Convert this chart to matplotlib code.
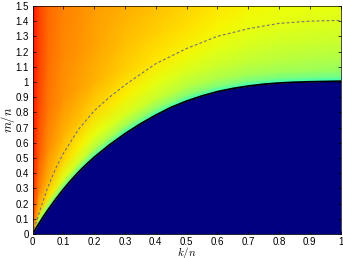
"""Phase map of m/n against k/n with the feasibility boundary."""

import matplotlib

matplotlib.use("Agg")
import matplotlib.pyplot as plt
import numpy as np

plt.rcParams["font.family"] = ["Liberation Sans", "DejaVu Sans"]
plt.rcParams["mathtext.fontset"] = "cm"

# boundary of the dark region
boundary_k = [0, 0.01, 0.02, 0.035, 0.05, 0.075, 0.1, 0.125, 0.15, 0.175,
              0.2, 0.25, 0.3, 0.35, 0.4, 0.45, 0.5, 0.55, 0.6, 0.65, 0.7,
              0.75, 0.8, 0.85, 0.9, 0.95, 1.0]
boundary_m = [0, 0.033, 0.0655, 0.113, 0.158, 0.228, 0.293, 0.353, 0.408,
              0.458, 0.504, 0.5865, 0.659, 0.724, 0.7815, 0.833, 0.874, 0.908,
              0.936, 0.957, 0.973, 0.985, 0.993, 0.998, 1.001, 1.003, 1.005]

# dashed reference curve
dashed_k = [0, 0.01, 0.025, 0.05, 0.075, 0.1, 0.15, 0.2, 0.25, 0.3, 0.4, 0.5,
            0.6, 0.7, 0.8, 0.9, 1.0]
dashed_m = [0, 0.065, 0.16, 0.31, 0.43, 0.53, 0.69, 0.81, 0.9, 0.98, 1.12,
            1.22, 1.3, 1.35, 1.385, 1.4, 1.405]

# field samples: columns of k/n, levels as fraction of the way from the
# boundary up to the top of the plot
col_k = [0, 0.02, 0.05, 0.1, 0.15, 0.2, 0.3, 0.4, 0.5, 0.6, 0.7, 0.8, 0.9, 1.0]
level_t = [0, 0.02, 0.06, 0.15, 0.3, 0.5, 0.75, 1.0]
col_values = [
    [0.65, 0.78, 0.83, 0.86, 0.88, 0.89, 0.89, 0.89],
    [0.36, 0.58, 0.71, 0.77, 0.81, 0.83, 0.84, 0.84],
    [0.36, 0.55, 0.67, 0.72, 0.76, 0.785, 0.795, 0.80],
    [0.36, 0.52, 0.62, 0.68, 0.72, 0.75, 0.765, 0.77],
    [0.36, 0.50, 0.60, 0.655, 0.70, 0.735, 0.75, 0.76],
    [0.36, 0.48, 0.57, 0.63, 0.68, 0.72, 0.735, 0.745],
    [0.36, 0.46, 0.54, 0.61, 0.655, 0.69, 0.71, 0.725],
    [0.36, 0.45, 0.52, 0.59, 0.63, 0.665, 0.69, 0.705],
    [0.36, 0.44, 0.51, 0.57, 0.61, 0.645, 0.67, 0.685],
    [0.36, 0.44, 0.50, 0.56, 0.595, 0.625, 0.65, 0.665],
    [0.36, 0.435, 0.495, 0.55, 0.585, 0.61, 0.635, 0.65],
    [0.36, 0.435, 0.49, 0.545, 0.575, 0.60, 0.625, 0.64],
    [0.36, 0.435, 0.49, 0.54, 0.57, 0.595, 0.62, 0.635],
    [0.36, 0.43, 0.485, 0.535, 0.565, 0.59, 0.615, 0.63],
]

x_ticks = [0, 0.1, 0.2, 0.3, 0.4, 0.5, 0.6, 0.7, 0.8, 0.9, 1]
x_tick_labels = ["0", "0.1", "0.2", "0.3", "0.4", "0.5", "0.6", "0.7", "0.8",
                 "0.9", "1"]
y_ticks = [0, 0.1, 0.2, 0.3, 0.4, 0.5, 0.6, 0.7, 0.8, 0.9, 1, 1.1, 1.2, 1.3,
           1.4, 1.5]
y_tick_labels = ["0", "0.1", "0.2", "0.3", "0.4", "0.5", "0.6", "0.7", "0.8",
                 "0.9", "1", "1.1", "1.2", "1.3", "1.4", "1.5"]
m_top = 1.5

# mesh that follows the boundary
col_b = np.interp(col_k, boundary_k, boundary_m)
kk, tt = np.meshgrid(col_k, level_t)
mm = col_b[None, :] + tt * (m_top - col_b[None, :])
vv = np.array(col_values).T

fig = plt.figure(figsize=(3.43, 2.58), dpi=100)
ax = fig.add_axes([0.0948, 0.093, 0.898, 0.884])

ax.pcolormesh(kk, mm, vv, shading="gouraud", cmap="jet", vmin=0, vmax=1)
ax.fill_between(boundary_k, 0, boundary_m, color=plt.cm.jet(0.0), lw=0)
ax.plot(boundary_k, boundary_m, color="black", lw=1.3)
ax.plot(dashed_k, dashed_m, color="0.45", lw=0.8, linestyle=(0, (2.5, 2)))

ax.set_xlim(0, 1)
ax.set_ylim(0, m_top)
ax.set_xticks(x_ticks)
ax.set_xticklabels(x_tick_labels)
ax.set_yticks(y_ticks)
ax.set_yticklabels(y_tick_labels)
ax.tick_params(direction="in", top=True, right=True, length=2.5, width=0.5,
               labelsize=7, pad=2.5)
ax.tick_params(axis="x", pad=2)
for spine in ax.spines.values():
    spine.set_linewidth(0.5)

ax.set_xlabel(r"$k/n$", fontsize=8, labelpad=-1.5)
ax.set_ylabel(r"$m/n$", fontsize=9, labelpad=-1)

fig.savefig("out.png", dpi=100)
plt.close(fig)
